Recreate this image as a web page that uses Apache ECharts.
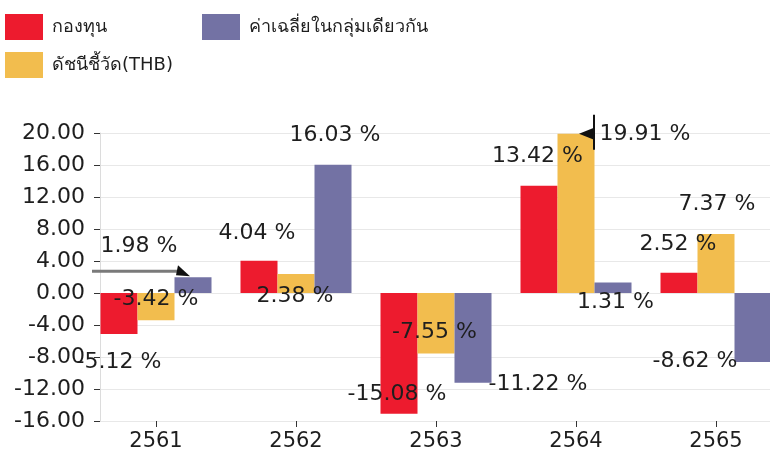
<!DOCTYPE html>
<html>
<head>
<meta charset="utf-8">
<script src="https://cdn.jsdelivr.net/npm/echarts@6/dist/echarts.min.js"></script>
<style>
html,body{margin:0;padding:0;background:#fff;}
#chart{width:770px;height:458px;}
</style>
</head>
<body>
<div id="chart"></div>
<script>
// ---- data ----
const categories = ['2561', '2562', '2563', '2564', '2565'];
const seriesNames = ['กองทุน', 'ดัชนีชี้วัด(THB)', 'ค่าเฉลี่ยในกลุ่มเดียวกัน'];
const fundValues = [-5.12, 4.04, -15.08, 13.42, 2.52];
const indexValues = [-3.42, 2.38, -7.55, 19.91, 7.37];
const peerValues = [1.98, 16.03, -11.22, 1.31, -8.62];
const yMin = -16, yMax = 20, yInterval = 4;

// ---- styling / layout (label offsets relative to bar centre) ----
const colors = ['#ED1B2E', '#F2BD4E', '#7372A4'];
const fundLabelOffsets = [[0, 49], [-2, -44], [-2, 41], [-1.5, -83], [-1, -38.5]];
const indexLabelOffsets = [[0, -7], [-1, 13], [-1.5, 9], [69, -79], [1, -59]];
const peerLabelOffsets = [[-54, -39], [2, -94], [65, 46], [2.5, 15], [-58, 34]];

const FONT = 'DejaVu Sans, Noto Sans, sans-serif';
const TXT = '#1e1e1e';

function makeSeries(idx, values, offsets) {
  return {
    name: seriesNames[idx],
    type: 'bar',
    xAxisIndex: 0,
    yAxisIndex: 0,
    barWidth: 37,
    barGap: '0%',
    itemStyle: { color: colors[idx] },
    data: values.map((v, i) => ({
      value: v,
      label: { offset: offsets[i] }
    })),
    label: {
      show: true,
      position: 'inside',
      color: TXT,
      fontFamily: FONT,
      fontSize: 22,
      formatter: p => p.value.toFixed(2) + ' %'
    },
    z: 3
  };
}

const chart = echarts.init(document.getElementById('chart'), null, { renderer: 'canvas' });
const option = {
  animation: false,
  backgroundColor: '#ffffff',
  textStyle: { fontFamily: FONT },
  legend: [
    {
      left: 5, top: 14, orient: 'vertical', padding: 0,
      itemWidth: 38, itemHeight: 26, itemGap: 12,
      icon: 'rect', selectedMode: false,
      data: [seriesNames[0], seriesNames[1]],
      textStyle: { fontFamily: FONT, fontSize: 18, color: TXT, padding: [0, 0, 0, 4] }
    },
    {
      left: 202, top: 14, orient: 'vertical', padding: 0,
      itemWidth: 38, itemHeight: 26, itemGap: 12,
      icon: 'rect', selectedMode: false,
      data: [seriesNames[2]],
      textStyle: { fontFamily: FONT, fontSize: 18, color: TXT, padding: [0, 0, 0, 4] }
    }
  ],
  grid: [
    { left: 86, width: 700, top: 133, bottom: 37, containLabel: false, outerBoundsMode: 'none' },
    { left: 100, right: 0, top: 133, bottom: 37, containLabel: false, outerBoundsMode: 'none' }
  ],
  xAxis: [
    {
      type: 'category', gridIndex: 0, data: categories,
      axisLine: { show: false, onZero: false },
      axisTick: { show: true, alignWithLabel: true, length: 6, lineStyle: { color: '#333', width: 1 } },
      axisLabel: { color: TXT, fontFamily: FONT, fontSize: 21, margin: 10 },
      splitLine: { show: false }
    },
    {
      type: 'value', gridIndex: 1, show: false
    }
  ],
  yAxis: [
    {
      type: 'value', gridIndex: 0, min: yMin, max: yMax, interval: yInterval, show: false
    },
    {
      type: 'value', gridIndex: 1, min: yMin, max: yMax, interval: yInterval,
      axisLine: { show: true, lineStyle: { color: '#dcdcdc', width: 1 } },
      axisTick: { show: true, length: 6, lineStyle: { color: '#333', width: 1 } },
      axisLabel: { color: TXT, fontFamily: FONT, fontSize: 22, margin: 15, formatter: v => v.toFixed(2) },
      splitLine: { show: true, lineStyle: { color: '#e8e8e8', width: 1 } }
    }
  ],
  series: [
    makeSeries(0, fundValues, fundLabelOffsets),
    makeSeries(1, indexValues, indexLabelOffsets),
    makeSeries(2, peerValues, peerLabelOffsets)
  ]
};
chart.setOption(option);

// ---- annotation callouts, positioned from the axes ----
const px = (cat, val) => chart.convertToPixel({ xAxisIndex: 0, yAxisIndex: 0 }, [cat, val]);
const a1 = px(categories[0], peerValues[0]);   // 2561 peer bar top (category centre)
const a2 = px(categories[3], indexValues[3]);  // 2564 index bar top
const ay = a1[1] - 6;
const x0 = a1[0] - 64, x1 = a1[0] + 34;
const vx = a2[0] + 18;
chart.setOption({
  graphic: [
    { type: 'line', shape: { x1: x0, y1: ay, x2: x1 - 8, y2: ay }, style: { stroke: '#7a7a7a', lineWidth: 3 }, z: 10 },
    { type: 'polygon', shape: { points: [[x1 - 12, ay - 6], [x1, ay + 5], [x1 - 14, ay + 4]] }, style: { fill: '#111' }, z: 10 },
    { type: 'line', shape: { x1: vx, y1: a2[1] - 19, x2: vx, y2: a2[1] + 16 }, style: { stroke: '#111', lineWidth: 2 }, z: 10 },
    { type: 'polygon', shape: { points: [[vx - 15, a2[1]], [vx, a2[1] - 6], [vx, a2[1] + 6]] }, style: { fill: '#111' }, z: 10 }
  ]
});
</script>
</body>
</html>
